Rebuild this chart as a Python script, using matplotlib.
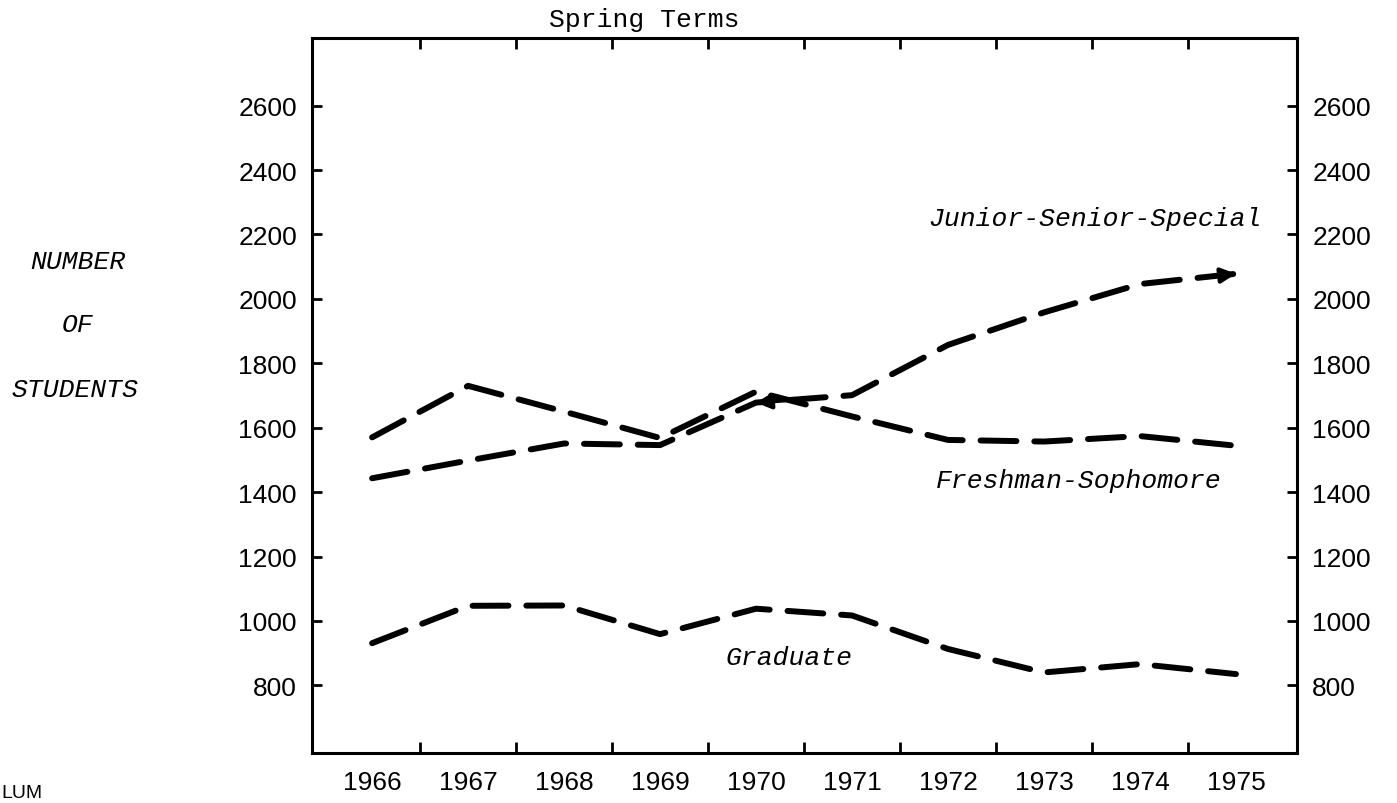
import matplotlib
matplotlib.use("Agg")
import matplotlib.pyplot as plt
from matplotlib.ticker import FixedLocator, NullFormatter

# values (spring terms)
years = [1966, 1967, 1968, 1969, 1970, 1971, 1972, 1973, 1974, 1975]
fresh_soph = [1570, 1730, 1650, 1568, 1712, 1635, 1562, 1557, 1574, 1544]
jun_sen_spec = [1443, 1498, 1551, 1546, 1678, 1701, 1857, 1958, 2046, 2078]
graduate = [931, 1047, 1048, 959, 1038, 1017, 913, 840, 866, 835]
y_ticks = [800, 1000, 1200, 1400, 1600, 1800, 2000, 2200, 2400, 2600]

mono = "Liberation Mono"
sans = "Liberation Sans"

fig = plt.figure(figsize=(13.97, 8.04), dpi=100)
ax = fig.add_axes((0.2235, 0.0622, 0.7049, 0.8893))

line_kw = dict(color="k", lw=4.3, dashes=(6.0, 3.0),
               dash_capstyle="round", solid_capstyle="round")
ax.plot(years, fresh_soph, **line_kw)
ax.plot(years, jun_sen_spec, **line_kw)
ax.plot(years, graduate, **line_kw)

# hand drawn arrow heads on the Junior-Senior-Special line
def head(i, j, frac):
    x0, y0 = years[j], jun_sen_spec[j]
    x1, y1 = years[i], jun_sen_spec[i]
    ax.annotate("", xy=(x1, y1),
                xytext=(x1 + frac * (x0 - x1), y1 + frac * (y0 - y1)),
                arrowprops=dict(arrowstyle="-|>", color="k", lw=3,
                                mutation_scale=22, shrinkA=0, shrinkB=0))

head(len(years) - 1, len(years) - 2, 0.25)
head(4, 5, 0.3)

ax.set_xlim(1965.376, 1975.636)
ax.set_ylim(590, 2810)

for s in ax.spines.values():
    s.set_linewidth(2.2)

ax.xaxis.set_major_locator(FixedLocator(years))
ax.xaxis.set_minor_locator(FixedLocator([y + 0.5 for y in years[:-1]]))
ax.xaxis.set_minor_formatter(NullFormatter())
ax.tick_params(axis="x", which="major", length=0, pad=12,
               labelsize=19)
ax.tick_params(axis="x", which="minor", direction="in", length=8,
               width=2, top=True, bottom=True)

ax.set_yticks(y_ticks)
ax.tick_params(axis="y", direction="in", length=7, width=2,
               left=True, right=True, labelleft=True, labelright=True,
               pad=11, labelsize=19)
for lab in ax.get_xticklabels() + ax.get_yticklabels():
    lab.set_family(sans)

txt = dict(family=mono, style="italic", fontsize=19, color="k",
           ha="center", va="center")
ax.text(0.7950, 0.7478, "Junior-Senior-Special", transform=ax.transAxes, **txt)
ax.text(0.7780, 0.3821, "Freshman-Sophomore", transform=ax.transAxes, **txt)
ax.text(0.4837, 0.1336, "Graduate", transform=ax.transAxes, **txt)

fig.text(78 / 1397, 1 - 262 / 804, "NUMBER", **txt)
fig.text(78 / 1397, 1 - 325 / 804, "OF", **txt)
fig.text(75 / 1397, 1 - 390 / 804, "STUDENTS", **txt)

fig.text(644 / 1397, 1 - 20 / 804, "Spring Terms", family=mono,
         fontsize=19, ha="center", va="center")
fig.text(1 / 1397, 2 / 804, "LUM", family=sans, fontsize=14,
         ha="left", va="bottom")

fig.savefig("out.png", dpi=100)
